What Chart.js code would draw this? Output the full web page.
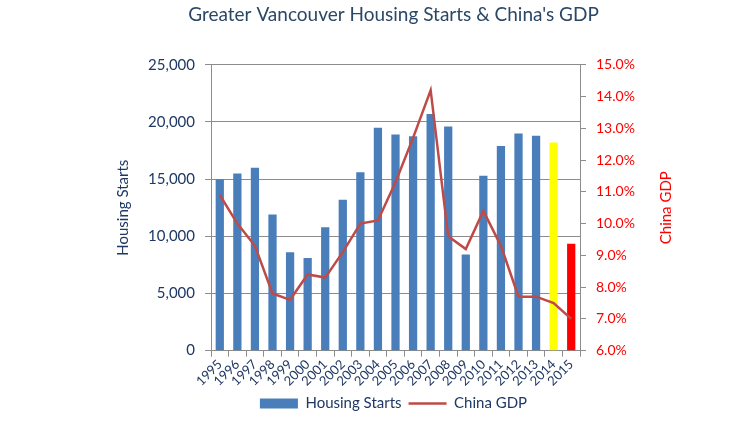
<!DOCTYPE html>
<html>
<head>
<meta charset="utf-8">
<script src="https://cdn.jsdelivr.net/npm/chart.js@4.4.1/dist/chart.umd.min.js"></script>
<style>
  html, body { margin: 0; padding: 0; background: #fff; }
  #wrap { width: 750px; height: 421px; }
</style>
</head>
<body>
<div id="wrap"><canvas id="chart" width="750" height="421"></canvas></div>
<script>
// data
const years = ['1995', '1996', '1997', '1998', '1999', '2000', '2001', '2002', '2003', '2004',
               '2005', '2006', '2007', '2008', '2009', '2010', '2011', '2012', '2013', '2014', '2015'];
const housingStarts = [15000, 15500, 16000, 11900, 8600, 8100, 10800, 13200, 15600, 19500,
                       18900, 18750, 20700, 19600, 8400, 15300, 17900, 19000, 18800, 18200, 9350];
const chinaGdp = [10.9, 10.0, 9.3, 7.8, 7.6, 8.4, 8.3, 9.1, 10.0, 10.1,
                  11.3, 12.7, 14.2, 9.6, 9.2, 10.4, 9.3, 7.7, 7.7, 7.5, 7.0];
const leftTicks = [0, 5000, 10000, 15000, 20000, 25000];
const rightTicks = [6, 7, 8, 9, 10, 11, 12, 13, 14, 15];

// styles
const BLUE = '#4A7EBB';
const LINE_RED = '#BE4B48';
const NAVY = '#1F3864';
const barColors = years.map(y => y === '2014' ? '#FFFF00' : y === '2015' ? '#FF0000' : BLUE);
const FONT = 'Lato, "Open Sans", sans-serif';

// right axis title reads bottom-to-top like the left one
const rightTitle = {
    id: 'rightTitle',
    afterDraw(chart) {
        const { ctx, chartArea } = chart;
        ctx.save();
        ctx.translate(666, (chartArea.top + chartArea.bottom) / 2);
        ctx.rotate(-Math.PI / 2);
        ctx.fillStyle = '#FF0000';
        ctx.font = '15px ' + FONT;
        ctx.textAlign = 'center';
        ctx.textBaseline = 'middle';
        ctx.fillText('China GDP', 0, 0);
        ctx.restore();
    },
};

const ctx = document.getElementById('chart').getContext('2d');
new Chart(ctx, {
    type: 'bar',
    data: {
        labels: years,
        datasets: [
            {
                type: 'line',
                label: 'China GDP',
                data: chinaGdp,
                yAxisID: 'y1',
                borderColor: LINE_RED,
                borderWidth: 2.5,
                pointRadius: 0,
                tension: 0,
                order: 0,
            },
            {
                label: 'Housing Starts',
                data: housingStarts,
                yAxisID: 'y',
                backgroundColor: barColors,
                barPercentage: 0.47,
                categoryPercentage: 1,
                order: 1,
            },
        ],
    },
    plugins: [rightTitle],
    options: {
        responsive: false,
        animation: false,
        layout: { padding: { left: 110, right: 73, top: 0, bottom: 0 } },
        plugins: {
            title: {
                display: true,
                text: "Greater Vancouver Housing Starts & China's GDP",
                color: '#2A4766',
                font: { family: FONT, size: 19, weight: 'normal' },
                padding: { top: 3, bottom: 39 },
            },
            tooltip: { enabled: false },
            legend: {
                position: 'bottom',
                labels: {
                    usePointStyle: true,
                    pointStyleWidth: 38,
                    boxHeight: 10,
                    padding: 7,
                    color: NAVY,
                    font: { family: FONT, size: 15 },
                    generateLabels: () => [
                        { text: 'Housing Starts', fillStyle: BLUE, strokeStyle: BLUE, lineWidth: 0, pointStyle: 'rect', datasetIndex: 1, fontColor: NAVY },
                        { text: 'China GDP', fillStyle: LINE_RED, strokeStyle: LINE_RED, lineWidth: 2.5, pointStyle: 'line', datasetIndex: 0, fontColor: NAVY },
                    ],
                },
            },
        },
        scales: {
            x: {
                grid: { drawOnChartArea: false, drawTicks: true, tickLength: 6, color: '#8c8c8c' },
                border: { color: '#8c8c8c' },
                ticks: { color: NAVY, font: { family: FONT, size: 13 }, minRotation: 45, maxRotation: 45, autoSkip: false, padding: 0 },
            },
            y: {
                position: 'left',
                min: 0,
                max: 25000,
                afterBuildTicks: s => { s.ticks = leftTicks.map(v => ({ value: v })); },
                afterFit: s => { s.width = 101; },
                grid: { color: '#8c8c8c', tickLength: 6 },
                border: { color: '#8c8c8c' },
                ticks: { color: NAVY, padding: 10, font: { family: FONT, size: 15 }, callback: v => v.toLocaleString('en-US') },
                title: { display: true, text: 'Housing Starts', color: NAVY, font: { family: FONT, size: 15 } },
            },
            y1: {
                position: 'right',
                min: 6,
                max: 15,
                afterBuildTicks: s => { s.ticks = rightTicks.map(v => ({ value: v })); },
                afterFit: s => { s.width = 97; },
                grid: { drawOnChartArea: false, color: '#8c8c8c', tickLength: 6 },
                border: { color: '#8c8c8c' },
                ticks: { color: '#FF0000', padding: 10, font: { family: FONT, size: 14 }, callback: v => v.toFixed(1) + '%' },
            },
        },
    },
});
</script>
</body>
</html>
